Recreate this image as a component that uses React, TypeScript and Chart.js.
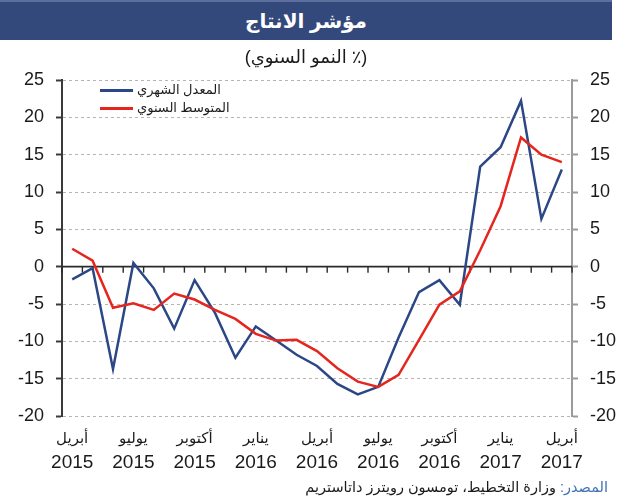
import React, { useEffect, useRef } from "react";
import { Chart, registerables } from "chart.js";

Chart.register(...registerables);

const categories = [
  "2015-04", "2015-05", "2015-06", "2015-07", "2015-08", "2015-09", "2015-10", "2015-11", "2015-12",
  "2016-01", "2016-02", "2016-03", "2016-04", "2016-05", "2016-06", "2016-07", "2016-08", "2016-09",
  "2016-10", "2016-11", "2016-12", "2017-01", "2017-02", "2017-03", "2017-04",
];

const monthlyRate = [
  -1.7, -0.2, -13.7, 0.5, -2.9, -8.3, -1.8, -6.2, -12.2, -8.0, -9.9, -11.8, -13.3,
  -15.7, -17.1, -16.1, -9.5, -3.4, -1.8, -5.1, 13.4, 16.0, 22.2, 6.4, 13.0,
];

const annualAverage = [
  2.4, 0.8, -5.5, -4.9, -5.8, -3.6, -4.4, -5.8, -7.0, -9.0, -9.9, -9.8, -11.3,
  -13.6, -15.4, -16.1, -14.5, -9.8, -5.1, -3.3, 2.2, 8.1, 17.3, 15.0, 14.0,
];

const tickIndexes = [0, 3, 6, 9, 12, 15, 18, 21, 24];
const tickMonths = ["أبريل", "يوليو", "أكتوبر", "يناير", "أبريل", "يوليو", "أكتوبر", "يناير", "أبريل"];
const tickYears = ["2015", "2015", "2015", "2016", "2016", "2016", "2016", "2017", "2017"];

const seriesNames = ["المعدل الشهري", "المتوسط السنوي"];
const titleText = "مؤشر الانتاج";
const subtitleText = "(٪ النمو السنوي)";
const sourceLabel = "المصدر:";
const sourceText = " وزارة التخطيط، تومسون رويترز داتاستريم";

const BLUE = "#2c4786";
const RED = "#e5261f";
const FONT = '"Liberation Sans", "DejaVu Sans", Arial, sans-serif';

const zeroLinePlugin = {
  id: "zeroLine",
  beforeDatasetsDraw(chart: any) {
    const { ctx, chartArea, scales } = chart;
    const y0 = scales.y.getPixelForValue(0);
    const xs = scales.x;
    const step = xs.getPixelForValue(1) - xs.getPixelForValue(0);
    ctx.save();
    ctx.strokeStyle = "#2a2a2a";
    ctx.lineWidth = 1.6;
    ctx.beginPath();
    ctx.moveTo(chartArea.left, y0);
    ctx.lineTo(chartArea.right, y0);
    ctx.stroke();
    ctx.lineWidth = 1.4;
    for (let i = 0; i <= categories.length; i++) {
      const x = xs.getPixelForValue(0) - step / 2 + i * step;
      ctx.beginPath();
      ctx.moveTo(x, y0);
      ctx.lineTo(x, y0 + 6);
      ctx.stroke();
    }
    ctx.restore();
  },
};

const xLabelPlugin = {
  id: "xLabels",
  afterDraw(chart: any) {
    const { ctx, scales } = chart;
    ctx.save();
    ctx.fillStyle = "#1a1a1a";
    ctx.textAlign = "center";
    ctx.textBaseline = "middle";
    tickIndexes.forEach((idx, k) => {
      const x = scales.x.getPixelForValue(idx);
      ctx.font = `15px ${FONT}`;
      ctx.fillText(tickMonths[k], x, 439);
      ctx.font = `19px ${FONT}`;
      ctx.fillText(tickYears[k], x, 463);
    });
    ctx.restore();
  },
};

export default function App() {
  const canvasRef = useRef<HTMLCanvasElement | null>(null);

  useEffect(() => {
    if (!canvasRef.current) return;
    const chart = new Chart(canvasRef.current, {
      type: "line",
      data: {
        labels: categories,
        datasets: [
          {
            label: seriesNames[1],
            data: annualAverage,
            borderColor: RED,
            borderWidth: 2.5,
            pointRadius: 0,
            tension: 0,
            fill: false,
          },
          {
            label: seriesNames[0],
            data: monthlyRate,
            borderColor: BLUE,
            borderWidth: 2.5,
            pointRadius: 0,
            tension: 0,
            fill: false,
          },
        ],
      },
      options: {
        responsive: false,
        animation: false,
        devicePixelRatio: 1,
        layout: { padding: { top: 80, left: 0, right: 0, bottom: 0 } },
        plugins: { legend: { display: false }, tooltip: { enabled: false } },
        scales: {
          x: {
            type: "category",
            offset: true,
            grid: { display: false },
            border: { display: false },
            ticks: { display: false },
            afterFit: (s: any) => {
              s.height = 84;
            },
          },
          y: {
            position: "left",
            min: -20,
            max: 25,
            ticks: { stepSize: 5, font: { family: FONT, size: 18 }, color: "#1a1a1a", padding: 12 },
            grid: {
              color: (c: any) => (c.tick && c.tick.value === 0 ? "rgba(0,0,0,0)" : "#bdb3ab"),
              lineWidth: 1,
              tickLength: 6,
              tickColor: "#3a3a3a",
              tickWidth: 2,
            },
            border: { color: "#3a3a3a", width: 2, dash: [3, 3] },
            afterFit: (s: any) => {
              s.width = 62;
            },
          },
          y2: {
            position: "right",
            min: -20,
            max: 25,
            ticks: { stepSize: 5, font: { family: FONT, size: 18 }, color: "#1a1a1a", padding: 12 },
            grid: { drawOnChartArea: false, tickLength: 6, tickColor: "#9a9a9a", tickWidth: 2 },
            border: { color: "#9a9a9a", width: 2 },
            afterFit: (s: any) => {
              s.width = 47;
            },
          },
        },
      },
      plugins: [zeroLinePlugin, xLabelPlugin],
    } as any);
    return () => chart.destroy();
  }, []);

  return (
    <div
      style={{
        position: "absolute",
        left: 0,
        top: 0,
        width: 619,
        height: 500,
        background: "#fff",
        overflow: "hidden",
        fontFamily: FONT,
      }}
    >
      <canvas
        ref={canvasRef}
        width={619}
        height={500}
        style={{ position: "absolute", left: 0, top: 0, width: 619, height: 500 }}
      />
      <div
        style={{
          position: "absolute",
          left: 0,
          top: 0,
          width: 612,
          height: 40,
          background: "#34497b",
          borderTop: "2px solid #5d6f9c",
          boxSizing: "border-box",
          color: "#fff",
          fontSize: 20,
          fontWeight: "bold",
          lineHeight: "38px",
          textAlign: "center",
        }}
        dir="rtl"
      >
        {titleText}
      </div>
      <div
        dir="rtl"
        style={{
          position: "absolute",
          left: 0,
          top: 45,
          width: 612,
          textAlign: "center",
          fontSize: 18,
          color: "#1a1a1a",
          lineHeight: "24px",
        }}
      >
        {subtitleText}
      </div>
      {[0, 1].map((k) => (
        <React.Fragment key={k}>
          <div
            style={{
              position: "absolute",
              left: 100,
              top: k === 0 ? 89 : 107,
              width: 33,
              height: 3,
              background: k === 0 ? BLUE : RED,
            }}
          />
          <div
            dir="rtl"
            style={{
              position: "absolute",
              left: 137,
              top: k === 0 ? 80 : 98,
              fontSize: 13,
              lineHeight: "20px",
              whiteSpace: "nowrap",
              color: "#1a1a1a",
            }}
          >
            {seriesNames[k]}
          </div>
        </React.Fragment>
      ))}
      <div
        dir="rtl"
        style={{
          position: "absolute",
          right: 11,
          top: 476,
          fontSize: 14.5,
          lineHeight: "22px",
          whiteSpace: "nowrap",
          color: "#1a1a1a",
        }}
      >
        <span style={{ color: "#3f6fb4" }}>{sourceLabel}</span>
        {sourceText}
      </div>
    </div>
  );
}
